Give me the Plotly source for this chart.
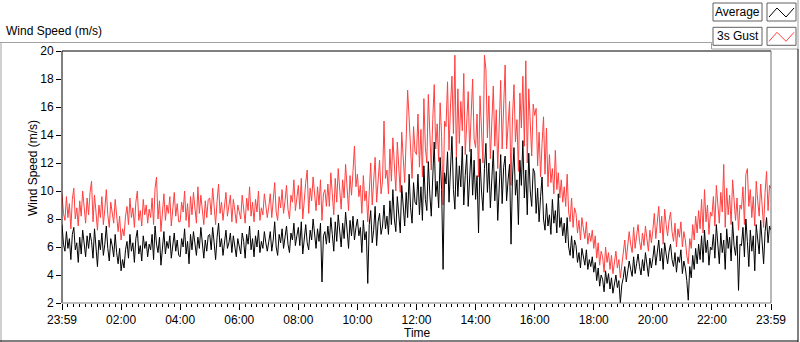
import plotly.graph_objects as go

# ---------------- data (3-minute samples, 23:59 -> 23:59) ----------------
average = [
    7.6, 6.2, 5.7, 7.1, 5.9, 6.6, 5.1, 6.9, 7.4, 5.8, 6.3, 4.9, 6.7, 5.5, 7.2, 6.0, 5.3, 6.8, 5.9, 7.0,
    6.4, 5.2, 7.3, 6.0, 4.6, 6.5, 5.8, 7.0, 5.4, 6.2, 7.5, 5.9, 5.0, 6.6, 6.1, 5.3, 6.9, 5.6, 4.8, 5.9,
    4.3, 5.1, 4.5, 5.8, 6.4, 5.2, 6.9, 5.7, 6.3, 4.9, 6.6, 7.2, 5.5, 6.1, 5.0, 6.8, 5.9, 6.4, 5.3, 6.2,
    5.8, 6.9, 5.1, 7.5, 6.2, 5.6, 6.7, 4.7, 6.0, 7.1, 5.5, 6.4, 5.9, 6.8, 5.2, 6.3, 7.0, 5.7, 6.5, 5.4,
    5.3, 6.6, 6.0, 7.3, 5.5, 6.4, 4.8, 6.9, 5.8, 7.1, 6.2, 5.4, 6.7, 5.9, 7.4, 6.1, 5.2, 6.5, 5.7, 6.8,
    6.9, 5.8, 7.4, 6.3, 5.1, 6.7, 7.7, 6.0, 6.6, 5.4, 6.5, 7.2, 5.9, 6.3, 7.0, 5.6, 6.8, 6.1, 5.3, 6.6,
    6.1, 5.5, 7.0, 6.4, 5.2, 6.9, 6.2, 7.5, 5.8, 6.6, 5.3, 6.8, 6.0, 7.2, 5.6, 6.4, 5.9, 7.1, 6.3, 5.7,
    6.4, 7.1, 5.7, 6.5, 7.8, 6.0, 5.4, 6.9, 6.3, 7.3, 5.9, 6.7, 7.5, 6.2, 5.6, 7.0, 6.5, 7.7, 6.1, 6.8,
    7.4, 6.1, 7.8, 5.5, 6.9, 7.6, 6.3, 5.8, 7.2, 6.5, 8.0, 6.7, 5.9, 7.3, 6.4, 7.7, 3.5, 6.8, 7.1, 6.2,
    7.5, 6.3, 8.1, 6.9, 5.7, 7.8, 6.4, 8.3, 7.0, 6.0, 7.7, 6.6, 8.5, 7.2, 5.9, 7.9, 6.8, 8.2, 6.5, 7.4,
    8.0, 6.8, 7.4, 5.6, 7.9, 6.5, 7.1, 3.4, 7.6, 8.6, 6.3, 7.2, 8.9, 6.1, 7.8, 8.4, 6.9, 7.5, 9.0, 7.3,
    8.2, 6.9, 9.3, 7.6, 10.1, 8.0, 7.1, 9.6, 8.4, 7.0, 10.4, 8.7, 7.5, 9.9, 8.1, 11.2, 8.8, 7.7, 10.6, 9.2,
    9.0, 11.2, 8.3, 10.3, 7.9, 11.8, 9.4, 8.6, 12.1, 9.8, 8.2, 11.0, 13.5, 9.6, 10.7, 8.8, 12.4, 10.1, 4.4, 11.3,
    10.5, 12.8, 9.2, 11.5, 13.9, 10.1, 8.7, 12.4, 9.6, 11.8, 10.3, 13.2, 9.0, 11.1, 12.6, 8.9, 10.8, 13.0, 9.7, 12.2,
    9.4, 11.1, 7.0, 12.3, 10.0, 8.6, 11.6, 13.4, 9.9, 12.0, 8.8, 10.7, 12.9, 9.3, 11.4, 7.9, 10.5, 12.6, 9.1, 11.7,
    12.5, 9.3, 10.8, 11.9, 6.2, 11.0, 13.1, 9.7, 10.8, 7.6, 12.2, 10.4, 13.6, 9.5, 11.5, 8.3, 12.7, 10.0, 8.9, 11.6,
    11.3, 8.4, 10.2, 7.8, 9.6, 11.0, 8.0, 7.2, 9.1, 7.5, 8.3, 6.9, 9.4, 7.7, 8.6, 7.0, 9.8, 7.4, 8.1, 6.8,
    7.7, 6.3, 8.1, 6.0, 5.4, 6.8, 5.2, 6.5, 6.1, 4.9, 5.6, 4.5, 5.9, 5.3, 4.7, 5.8, 4.4, 5.1, 4.6, 5.3,
    4.2, 4.9, 3.6, 4.5, 3.2, 4.0, 3.7, 2.8, 4.3, 3.4, 4.1, 3.0, 3.8, 2.7, 3.5, 4.0, 3.1, 3.6, 2.0, 3.3,
    3.8, 4.6, 3.5, 4.2, 5.0, 4.4, 3.9, 5.3, 4.1, 4.8, 5.5, 4.6, 4.0, 5.1, 4.3, 5.6, 4.7, 3.9, 5.2, 4.5,
    5.2, 6.1, 4.7, 5.8, 6.5, 5.0, 5.9, 4.4, 6.3, 5.5, 4.8, 5.7, 6.2, 5.1, 4.6, 5.6, 4.2, 5.3, 4.9, 5.8,
    4.1, 5.0, 4.5, 3.6, 2.2, 4.6, 3.8, 5.4, 4.4, 5.9, 4.8, 6.2, 5.1, 6.8, 4.9, 7.2, 5.6, 6.5, 4.7, 6.0,
    5.8, 6.9, 5.2, 7.6, 6.3, 4.8, 7.0, 5.6, 6.5, 4.4, 7.3, 5.9, 6.7, 5.0, 7.8, 6.1, 5.4, 6.8, 2.9, 6.2,
    6.1, 7.4, 5.3, 8.0, 6.4, 4.6, 7.2, 5.7, 6.8, 4.3, 7.6, 6.5, 5.5, 7.9, 6.0, 4.8, 7.1, 8.1, 6.3, 7.5,
    7.2,
]

gust_3s = [
    9.8, 8.4, 7.9, 9.6, 8.1, 9.1, 7.3, 9.4, 10.2, 8.0, 8.8, 7.5, 9.3, 8.2, 10.0, 8.6, 7.7, 9.5, 8.3, 9.9,
    10.7, 7.8, 9.7, 8.5, 7.2, 9.0, 8.1, 9.6, 7.6, 8.7, 10.1, 8.3, 7.4, 9.2, 8.6, 7.7, 9.4, 8.0, 7.1, 8.2,
    6.5, 7.3, 6.8, 8.2, 8.9, 7.6, 9.5, 8.1, 8.8, 7.4, 9.2, 10.0, 7.9, 8.6, 7.5, 9.4, 8.3, 9.0, 7.7, 8.7,
    8.1, 9.5, 7.6, 10.2, 11.0, 8.0, 9.3, 7.1, 8.5, 9.8, 7.9, 9.0, 8.4, 9.6, 7.5, 8.8, 9.9, 8.2, 9.1, 7.8,
    7.8, 9.2, 8.5, 10.0, 7.9, 9.1, 7.4, 9.6, 8.3, 9.9, 8.7, 7.7, 10.3, 8.4, 9.7, 8.6, 7.6, 9.3, 8.1, 9.4,
    9.5, 8.3, 10.2, 8.9, 7.6, 9.3, 10.5, 8.4, 9.2, 7.9, 9.1, 9.9, 8.2, 8.8, 9.7, 7.8, 9.4, 8.6, 7.7, 9.0,
    8.6, 8.0, 9.7, 8.9, 7.7, 9.5, 8.6, 10.3, 8.2, 9.2, 7.8, 9.4, 8.5, 10.0, 7.9, 8.8, 8.3, 9.8, 8.7, 8.1,
    8.9, 9.8, 8.1, 9.1, 10.6, 8.5, 7.9, 9.6, 8.8, 10.1, 8.4, 9.3, 10.4, 8.7, 8.0, 9.7, 9.2, 10.8, 8.6, 9.5,
    10.4, 8.7, 10.9, 8.0, 9.7, 10.6, 11.5, 8.4, 10.2, 9.3, 11.0, 9.5, 8.6, 10.3, 9.0, 10.8, 7.9, 9.8, 10.1, 8.9,
    10.5, 8.9, 11.3, 9.8, 8.3, 10.9, 9.2, 11.6, 10.0, 8.7, 10.8, 9.5, 11.9, 10.2, 8.6, 11.1, 9.7, 11.4, 13.2, 10.3,
    11.2, 9.6, 10.4, 8.4, 11.1, 9.3, 10.0, 7.8, 10.6, 12.0, 9.0, 10.5, 12.4, 9.2, 11.0, 12.2, 9.8, 10.7, 15.0, 10.9,
    11.5, 9.8, 13.0, 10.7, 13.8, 11.3, 10.0, 13.5, 11.8, 9.9, 14.2, 12.2, 10.6, 13.7, 17.2, 15.2, 12.4, 10.9, 14.6, 12.8,
    12.6, 15.5, 11.7, 14.4, 11.0, 16.6, 13.1, 12.0, 16.9, 13.7, 11.5, 15.1, 17.6, 13.0, 14.8, 12.1, 16.3, 13.9, 9.0, 15.0,
    14.6, 17.8, 12.9, 16.0, 18.2, 14.1, 19.7, 12.2, 17.3, 13.4, 16.4, 14.3, 18.4, 12.6, 15.6, 17.1, 12.8, 15.0, 18.0, 13.7,
    13.1, 15.5, 11.0, 16.8, 14.0, 12.0, 19.7, 18.7, 13.8, 16.8, 12.3, 14.9, 17.5, 13.2, 15.8, 11.6, 14.6, 17.9, 13.0, 16.1,
    19.0, 13.0, 15.1, 16.4, 10.4, 15.3, 17.6, 13.5, 15.1, 11.4, 17.0, 14.5, 18.2, 13.2, 19.3, 12.0, 17.3, 14.1, 12.5, 16.2,
    15.4, 15.9, 11.8, 14.2, 11.0, 13.4, 15.3, 11.2, 14.5, 10.3, 12.6, 10.6, 11.6, 9.8, 12.9, 10.1, 11.3, 9.5, 10.8, 9.2,
    10.3, 8.9, 11.2, 8.5, 7.8, 9.5, 7.4, 8.8, 8.4, 7.0, 7.9, 6.5, 8.1, 7.3, 6.6, 7.8, 6.2, 7.0, 6.4, 7.2,
    5.9, 6.8, 5.2, 6.3, 4.7, 5.7, 5.3, 4.2, 6.0, 4.9, 5.6, 4.4, 5.4, 4.1, 5.0, 5.7, 4.5, 5.1, 3.8, 4.8,
    5.4, 6.5, 5.1, 6.0, 7.1, 6.2, 5.6, 7.4, 5.9, 6.8, 7.6, 6.4, 5.8, 7.0, 6.1, 7.5, 6.6, 5.7, 7.2, 6.3,
    7.2, 8.4, 6.6, 8.0, 8.9, 7.0, 8.2, 6.2, 8.7, 7.6, 6.8, 7.9, 8.5, 7.1, 6.4, 7.7, 6.0, 7.3, 6.7, 7.8,
    6.0, 7.1, 6.5, 5.4, 4.8, 6.6, 5.9, 7.6, 6.5, 8.2, 7.0, 8.6, 7.3, 9.4, 7.0, 10.1, 7.8, 9.0, 6.9, 8.5,
    8.2, 9.6, 7.5, 10.4, 8.8, 7.7, 9.9, 8.5, 11.9, 7.4, 10.2, 8.3, 9.7, 7.6, 10.8, 8.9, 7.9, 9.5, 7.2, 9.0,
    8.7, 10.3, 7.6, 11.2, 11.6, 8.9, 10.1, 8.1, 9.6, 7.5, 10.7, 9.3, 8.2, 10.5, 8.8, 7.4, 9.9, 11.4, 8.6, 10.4,
    10.2,
]

DAY_MINUTES = 1440
n_avg, n_gust = len(average), len(gust_3s)
minutes_avg = [i * DAY_MINUTES / (n_avg - 1) for i in range(n_avg)]
minutes_gust = [i * DAY_MINUTES / (n_gust - 1) for i in range(n_gust)]
tick_minutes = [120 * i for i in range(13)]
tick_labels = ["23:59", "02:00", "04:00", "06:00", "08:00", "10:00", "12:00",
               "14:00", "16:00", "18:00", "20:00", "22:00", "23:59"]
series_names = ["Average", "3s Gust"]
series_colors = ["#000000", "#ff4040"]

# ---------------- geometry helpers (pixels -> paper) ----------------
W, H = 800, 342
L, R, T, B = 62, 771, 51, 303
def px(x): return (x - L) / (R - L)
def py(y): return (B - y) / (B - T)

FONT = "Liberation Sans"

fig = go.Figure()
fig.add_trace(go.Scatter(x=minutes_gust, y=gust_3s, mode="lines", name=series_names[1],
                         line=dict(color=series_colors[1], width=1), hoverinfo="skip"))
fig.add_trace(go.Scatter(x=minutes_avg, y=average, mode="lines", name=series_names[0],
                         line=dict(color=series_colors[0], width=1), hoverinfo="skip"))

fig.update_layout(
    width=W, height=H,
    margin=dict(l=L, r=W - R, t=T, b=H - B, pad=0),
    paper_bgcolor="white", plot_bgcolor="white",
    showlegend=False, hovermode=False,
    font=dict(family=FONT, size=12, color="black"),
)
fig.update_xaxes(
    range=[0, DAY_MINUTES], tickmode="array", tickvals=tick_minutes, ticktext=tick_labels,
    ticks="outside", ticklen=6, tickwidth=1, tickcolor="black",
    showgrid=False, zeroline=False, showline=False,
    tickfont=dict(family=FONT, size=12, color="black"),
    minor=dict(tickmode="linear", tick0=0, dtick=12, ticks="outside",
               ticklen=3, tickwidth=1, tickcolor="black", showgrid=False),
)
fig.update_yaxes(
    range=[2, 20], tickmode="linear", tick0=2, dtick=2,
    ticks="outside", ticklen=5, tickwidth=1, tickcolor="black",
    showgrid=False, zeroline=False, showline=False,
    tickfont=dict(family=FONT, size=12, color="black"),
)

shapes = []
def line(x0, y0, x1, y1, color, w=1):
    shapes.append(dict(type="line", xref="paper", yref="paper",
                       x0=px(x0), y0=py(y0), x1=px(x1), y1=py(y1),
                       line=dict(color=color, width=w)))

# plot frame
line(L, T, R, T, "black")
line(L, T, L, B, "black")
line(R, T, R, B, "#707070")
line(L, B, R, B, "#808080")
# outer panel frame
line(0, 42.5, 711.5, 42.5, "#a0a0a0")
line(711.5, 42.5, 711.5, 49, "#a0a0a0")
line(711.5, 49, 798, 49, "#a0a0a0")
line(798, 0, 798, 49, "#a0a0a0")
line(798, 49, 798, 342, "black")
line(1, 42.5, 1, 342, "#a0a0a0")
line(0, 341, 798, 341, "black")

# legend boxes
for i, (nm, col) in enumerate(zip(series_names, series_colors)):
    y0 = 3 + i * 24.3
    shapes.append(dict(type="rect", xref="paper", yref="paper",
                       x0=px(713), x1=px(762), y0=py(y0), y1=py(y0 + 18),
                       line=dict(color="#606060", width=1), fillcolor="white"))
    shapes.append(dict(type="rect", xref="paper", yref="paper",
                       x0=px(767), x1=px(796), y0=py(y0), y1=py(y0 + 18),
                       line=dict(color="#606060", width=1), fillcolor="white"))
    pts = [(769, y0 + 14), (777, y0 + 5), (786, y0 + 14), (794, y0 + 5)]
    path = "M " + " L ".join(f"{px(a)},{py(b)}" for a, b in pts)
    shapes.append(dict(type="path", xref="paper", yref="paper", path=path,
                       line=dict(color=col, width=1)))

annotations = [
    dict(text="Wind Speed (m/s)", x=px(4), y=py(31), xref="paper", yref="paper",
         xanchor="left", yanchor="middle", showarrow=False,
         font=dict(family=FONT, size=12, color="black")),
    dict(text="Time", x=px(417), y=py(333), xref="paper", yref="paper",
         xanchor="center", yanchor="middle", showarrow=False,
         font=dict(family=FONT, size=12, color="black")),
    dict(text="Wind Speed (m/s)", x=px(33), y=py(168), xref="paper", yref="paper",
         xanchor="center", yanchor="middle", showarrow=False, textangle=-90,
         font=dict(family=FONT, size=12, color="black")),
]
for i, nm in enumerate(series_names):
    annotations.append(dict(text=nm, x=px(737.5), y=py(12 + i * 24.3),
                            xref="paper", yref="paper", xanchor="center",
                            yanchor="middle", showarrow=False,
                            font=dict(family=FONT, size=12, color="black")))

fig.update_layout(shapes=shapes, annotations=annotations)
fig.write_html("out.html", config={"displayModeBar": False, "staticPlot": True},
               post_script="document.body.style.margin='0';document.body.style.overflow='hidden';")
